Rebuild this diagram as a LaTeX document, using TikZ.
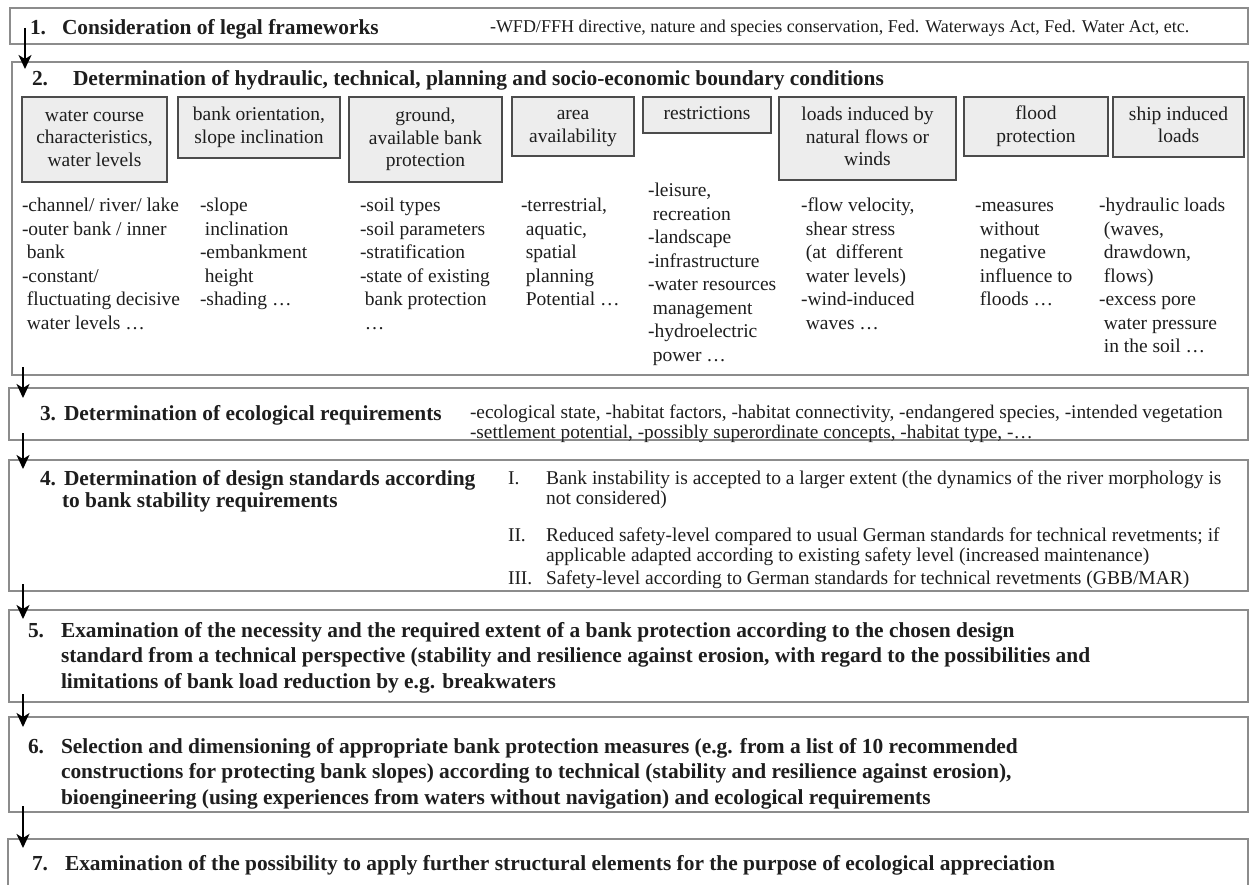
\documentclass[tikz,border=0pt]{standalone}
\usepackage{fontspec}
\setmainfont{Liberation Serif}
\usetikzlibrary{arrows.meta}
\definecolor{obord}{HTML}{8C8C8C}
\definecolor{ibord}{HTML}{4C4C4C}
\definecolor{ifill}{HTML}{EDEDED}
\definecolor{txt}{HTML}{1E1E1E}
\newcommand\ttlfont{\fontsize{21.4}{25.6}\selectfont\bfseries}
\newcommand\lstfont{\fontsize{19.5}{23.5}\selectfont}
\newcommand\boxfont{\fontsize{19.5}{22.7}\selectfont}
\newcommand\smlfont{\fontsize{18}{21.6}\selectfont}
\newcommand\ecofont{\fontsize{19.3}{18}\selectfont}
\newcommand\stdfont{\fontsize{19.5}{20}\selectfont}
\newcommand\ind{\hspace*{4.9pt}}
\newcommand\bst{\rule[-4.5pt]{0pt}{18pt}}
\begin{document}
\begin{tikzpicture}[x=1pt,y=-1pt,
  every node/.style={inner sep=0pt, outer sep=0pt, text=txt},
  obox/.style={draw=obord, line width=2pt, anchor=north west},
  ibox/.style={draw=ibord, fill=ifill, line width=2pt, anchor=north west, align=center, font=\boxfont},
  ttl/.style={anchor=base west, font=\ttlfont},
  ttlm/.style={anchor=north west, align=left, font=\ttlfont},
  lst/.style={anchor=north west, align=left, font=\lstfont},
  arr/.style={draw=black, line width=1.8pt, -{Stealth[length=14pt,width=13pt,inset=4pt]}}
]
\useasboundingbox (0,0) rectangle (1250,885);
\fill[white] (0,0) rectangle (1250,885);
\clip (0,0) rectangle (1250,885);

% ---- Box 1
\node[obox, minimum width=1238, minimum height=36] (b1) at (10,8) {};
\node[ttl] (n1) at (30,35) {1.};
\node[ttl] (t1) at (62,35) {Consideration of legal frameworks};
\node[anchor=base west, font=\smlfont] (r1) at (490,33) {-WFD/FFH directive, nature and species conservation, Fed. Waterways Act, Fed. Water Act, etc.};

% ---- Box 2
\node[obox, minimum width=1236, minimum height=313] (b2) at (12,62) {};
\node[ttl] (n2) at (32,86) {2.};
\node[ttl] (t2) at (73,86) {Determination of hydraulic, technical, planning and socio-economic boundary conditions};

\node[ibox, minimum width=145, minimum height=85] (ib1) at (22,97) {\bst water course\\characteristics,\\water levels\bst};
\node[ibox, minimum width=162, minimum height=61] (ib2) at (178,97) {\bst bank orientation,\\slope inclination\bst};
\node[ibox, minimum width=153, minimum height=85] (ib3) at (349,97) {\bst ground,\\available bank\\protection\bst};
\node[ibox, minimum width=122, minimum height=59] (ib4) at (512,97) {\bst area\\availability\bst};
\node[ibox, minimum width=128, minimum height=36] (ib5) at (643,97) {\bst restrictions};
\node[ibox, minimum width=177, minimum height=83] (ib6) at (779,97) {\bst loads induced by\\natural flows or\\winds\bst};
\node[ibox, minimum width=144, minimum height=59] (ib7) at (964,97) {\bst flood\\protection\bst};
\node[ibox, minimum width=131, minimum height=60] (ib8) at (1113,97) {\bst ship induced\\loads\bst};

\node[lst] (l1) at (22,195.5) {\strut-channel/ river/ lake\\-outer bank / inner\\\ind bank\\-constant/\\\ind fluctuating decisive\\\ind water levels …};
\node[lst] (l2) at (200,195.5) {\strut-slope\\\ind inclination\\-embankment\\\ind height\\-shading …};
\node[lst] (l3) at (360,195.5) {\strut-soil types\\-soil parameters\\-stratification\\-state of existing\\\ind bank protection\\\ind …};
\node[lst] (l4) at (521,195.5) {\strut-terrestrial,\\\ind aquatic,\\\ind spatial\\\ind planning\\\ind Potential …};
\node[lst] (l5) at (648,180.5) {\strut-leisure,\\\ind recreation\\-landscape\\-infrastructure\\-water resources\\\ind management\\-hydroelectric\\\ind power …};
\node[lst] (l6) at (801,195.5) {\strut-flow velocity,\\\ind shear stress\\\ind (at~ different\\\ind water levels)\\-wind-induced\\\ind waves …};
\node[lst] (l7) at (975,195.5) {\strut-measures\\\ind without\\\ind negative\\\ind influence to\\\ind floods …};
\node[lst] (l8) at (1099,195.5) {\strut-hydraulic loads\\\ind (waves,\\\ind drawdown,\\\ind flows)\\-excess pore\\\ind water pressure\\\ind in the soil …};

% ---- Box 3
\node[obox, minimum width=1239, minimum height=52] (b3) at (9,388) {};
\node[ttl] (n3) at (40,420) {3.};
\node[ttl] (t3) at (64,420) {Determination of ecological requirements};
\node[anchor=north west, align=left, font=\ecofont] (r3) at (470,405) {\strut-ecological state, -habitat factors, -habitat connectivity, -endangered species, -intended vegetation\\-settlement potential, -possibly superordinate concepts, -habitat type, -…};

% ---- Box 4
\node[obox, minimum width=1239, minimum height=131] (b4) at (9,460) {};
\node[ttl] (n4) at (40,485) {4.};
\node[ttl] (t4a) at (64,485) {Determination of design standards according};
\node[ttl] (t4b) at (62,507) {to bank stability requirements};
\node[anchor=base west, font=\stdfont] (i1) at (508,484.5) {I.};
\node[anchor=north west, align=left, font=\stdfont] (d1) at (546,470.5) {\strut Bank instability is accepted to a larger extent (the dynamics of the river morphology is\\not considered)};
\node[anchor=base west, font=\stdfont] (i2) at (508,541.5) {II.};
\node[anchor=north west, align=left, font=\stdfont] (d2) at (546,527.5) {\strut Reduced safety-level compared to usual German standards for technical revetments; if\\applicable adapted according to existing safety level (increased maintenance)};
\node[anchor=base west, font=\stdfont] (i3) at (508,584.5) {III.};
\node[anchor=base west, font=\stdfont] (d3) at (546,584.5) {Safety-level according to German standards for technical revetments (GBB/MAR)};

% ---- Box 5
\node[obox, minimum width=1239, minimum height=92] (b5) at (9,610) {};
\node[ttl] (n5) at (28,637) {5.};
\node[ttlm] (t5) at (61,619.1) {\strut Examination of the necessity and the required extent of a bank protection according to the chosen design\\standard from a technical perspective (stability and resilience against erosion, with regard to the possibilities and\\limitations of bank load reduction by e.g. breakwaters};

% ---- Box 6
\node[obox, minimum width=1239, minimum height=95] (b6) at (9,717) {};
\node[ttl] (n6) at (28,753) {6.};
\node[ttlm] (t6) at (61,735.1) {\strut Selection and dimensioning of appropriate bank protection measures (e.g. from a list of 10 recommended\\constructions for protecting bank slopes) according to technical (stability and resilience against erosion),\\bioengineering (using experiences from waters without navigation) and ecological requirements};

% ---- Box 7
\node[obox, minimum width=1240, minimum height=60] (b7) at (8,839) {};
\node[ttl] (n7) at (32,870) {7.};
\node[ttl] (t7) at (65,870) {Examination of the possibility to apply further structural elements for the purpose of ecological appreciation};

% ---- Arrows
\draw[arr] ([shift={(15,20)}]b1.north west) -- ([shift={(13,7)}]b2.north west);
\draw[arr] ([shift={(11,-8)}]b2.south west) -- ([shift={(14,10)}]b3.north west);
\draw[arr] ([shift={(14,-7)}]b3.south west) -- ([shift={(14,9)}]b4.north west);
\draw[arr] ([shift={(14,-7)}]b4.south west) -- ([shift={(14,9)}]b5.north west);
\draw[arr] ([shift={(14,-8)}]b5.south west) -- ([shift={(14,10)}]b6.north west);
\draw[arr] ([shift={(14,-6)}]b6.south west) -- ([shift={(15,9)}]b7.north west);
\end{tikzpicture}
\end{document}
